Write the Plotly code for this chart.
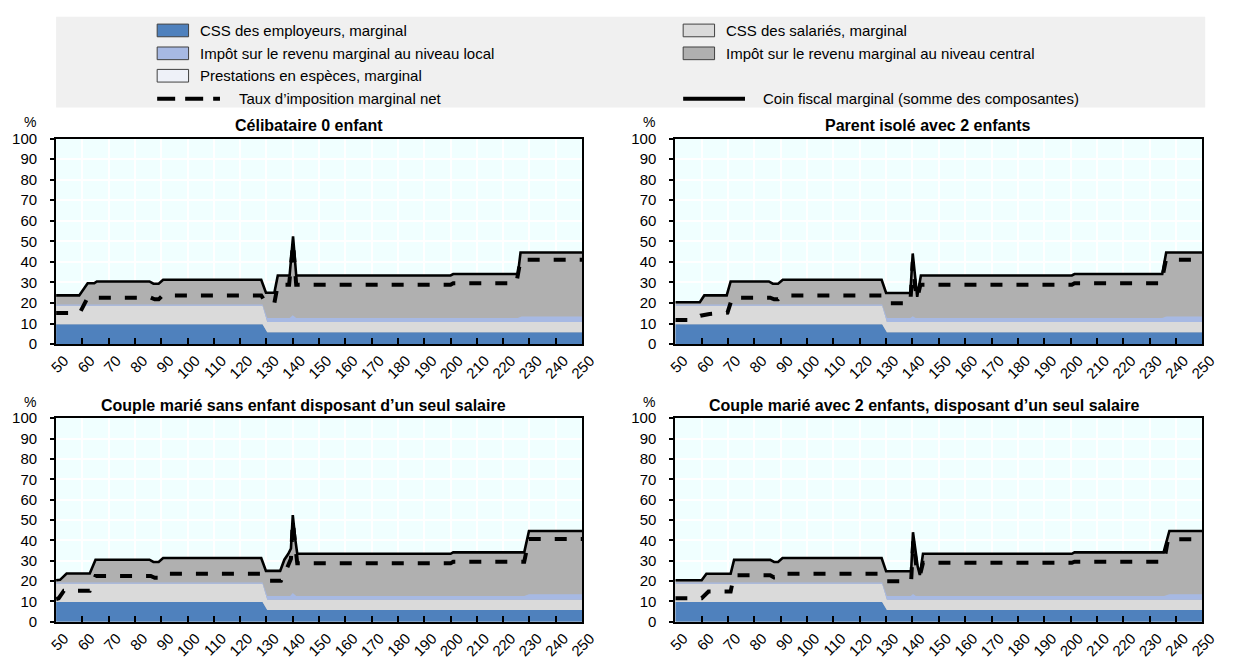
import plotly.graph_objects as go

W, H = 1233, 660

# ---------------------------------------------------------------------------
# Data: marginal rates (% of gross earnings) by earnings level (% of average wage)
# Each component is given at its break points.
# ---------------------------------------------------------------------------
panel_titles = [
    "Célibataire 0 enfant",
    "Parent isolé avec 2 enfants",
    "Couple marié sans enfant disposant d\u2019un seul salaire",
    "Couple marié avec 2 enfants, disposant d\u2019un seul salaire",
]

x_ticks = [50, 60, 70, 80, 90, 100, 110, 120, 130, 140, 150, 160, 170, 180, 190,
           200, 210, 220, 230, 240, 250]
y_ticks = [0, 10, 20, 30, 40, 50, 60, 70, 80, 90, 100]

# Employer and employee social security contributions (same for all households)
css_x = [50, 128.5, 130.3, 250]
css_employer = [9.7, 9.7, 5.8, 5.8]
css_employee = [9.0, 9.0, 5.0, 5.0]

# Local income tax
local1_x = [50, 128.5, 130.3, 138.8, 140.0, 141.3, 225.5, 227.0, 250]
local1_y = [0.6, 0.6, 1.9, 1.9, 3.3, 1.9, 1.9, 2.7, 2.7]
local2_x = [50, 128.5, 130.3, 139.2, 140.1, 141.2, 234.8, 236.3, 250]
local2_y = [0.6, 0.6, 1.9, 1.9, 2.8, 1.9, 1.9, 2.7, 2.7]
local3_x = [50, 128.5, 130.3, 139.0, 140.0, 141.3, 228.0, 229.8, 250]
local3_y = [0.6, 0.6, 1.9, 1.9, 3.3, 1.9, 1.9, 2.7, 2.7]
local4_x = [50, 128.5, 130.3, 139.4, 140.2, 141.3, 235.5, 237.5, 250]
local4_y = [0.6, 0.6, 1.9, 1.9, 2.8, 1.9, 1.9, 2.7, 2.7]

# Cash benefits (marginal withdrawal)
benef_x = [50, 250]
benef_y = [0.0, 0.0]

# Marginal tax wedge (sum of components)
wedge1_x = [50, 58.8, 62.0, 64.5, 65.5, 85.5, 87.0, 89.0, 90.7, 128.0, 129.8, 133.0,
            134.3, 138.8, 140.1, 141.3, 200.0, 201.0, 225.6, 226.6, 250]
wedge1_y = [23.7, 23.7, 29.6, 29.6, 30.5, 30.5, 29.4, 29.4, 31.3, 31.3, 25.0, 25.0,
            33.4, 33.4, 52.4, 33.4, 33.4, 34.1, 34.1, 44.6, 44.6]
wedge2_x = [50, 59.3, 61.0, 69.5, 71.0, 85.5, 87.0, 89.0, 90.8, 128.3, 130.0, 139.2,
            140.1, 141.0, 141.8, 143.2, 200.5, 201.5, 234.8, 236.3, 250]
wedge2_y = [20.4, 20.4, 23.7, 23.7, 30.5, 30.5, 29.4, 29.4, 31.3, 31.3, 24.9, 24.9,
            44.1, 31.0, 23.0, 33.4, 33.4, 34.1, 34.1, 44.6, 44.6]
wedge3_x = [50, 51.5, 54.0, 62.8, 65.0, 85.5, 87.0, 89.0, 90.7, 128.0, 129.8, 135.2,
            136.8, 138.3, 139.3, 140.0, 141.0, 141.7, 200.0, 201.0, 228.0, 229.8, 250]
wedge3_y = [20.4, 20.6, 23.7, 23.7, 30.5, 30.5, 29.4, 29.4, 31.3, 31.3, 25.0, 25.0,
            30.5, 33.4, 36.0, 52.4, 40.0, 33.4, 33.4, 34.1, 34.1, 44.6, 44.6]
wedge4_x = [50, 60.0, 61.8, 71.0, 72.3, 86.0, 87.5, 89.0, 90.7, 128.3, 130.0, 139.5,
            140.2, 141.2, 142.0, 142.8, 144.0, 200.5, 201.5, 235.3, 237.5, 250]
wedge4_y = [20.4, 20.4, 23.6, 23.6, 30.4, 30.4, 29.4, 29.4, 31.3, 31.3, 24.8, 24.8,
            44.0, 33.0, 27.0, 23.0, 33.4, 33.4, 34.1, 34.1, 44.6, 44.6]

# Net marginal tax rate
net1_x = [50, 59.0, 62.0, 86.0, 87.5, 89.0, 90.5, 128.0, 129.8, 133.0, 134.3, 138.6,
          140.1, 141.3, 200.0, 201.0, 225.0, 226.6, 250]
net1_y = [15.2, 15.2, 22.6, 22.6, 21.8, 21.8, 23.7, 23.7, 20.0, 20.0, 28.9, 28.9,
          49.0, 28.9, 28.9, 29.6, 29.6, 41.0, 41.0]
net2_x = [50, 56.5, 59.5, 63.0, 69.8, 71.6, 86.0, 87.5, 89.0, 90.8, 128.3, 130.0,
          139.2, 140.1, 141.0, 141.8, 143.0, 200.5, 201.5, 234.4, 236.2, 250]
net2_y = [11.8, 11.8, 13.8, 14.7, 15.3, 22.6, 22.6, 21.8, 21.8, 23.7, 23.7, 19.9,
          19.9, 40.0, 28.0, 22.2, 28.9, 28.9, 29.6, 29.6, 41.0, 41.0]
net3_x = [50, 51.0, 53.0, 62.8, 65.0, 86.0, 87.5, 89.0, 90.5, 128.0, 129.8, 135.5,
          137.5, 139.3, 140.0, 141.0, 141.7, 200.0, 201.0, 228.0, 229.8, 250]
net3_y = [11.2, 11.6, 15.3, 15.3, 22.5, 22.5, 21.6, 21.6, 23.6, 23.6, 20.1, 20.1,
          25.5, 31.0, 49.0, 36.0, 28.7, 28.7, 29.5, 29.5, 40.7, 40.7]
net4_x = [50, 60.0, 62.6, 71.0, 72.3, 86.0, 87.5, 89.0, 90.7, 128.3, 130.0, 139.5,
          140.3, 141.5, 142.8, 144.0, 200.5, 201.5, 235.5, 237.0, 250]
net4_y = [11.6, 11.6, 14.9, 14.9, 22.8, 22.8, 21.7, 21.7, 23.6, 23.6, 19.9, 19.9,
          40.0, 27.0, 22.6, 29.0, 29.0, 29.5, 29.5, 40.6, 40.6]

local_x = [local1_x, local2_x, local3_x, local4_x]
local_y = [local1_y, local2_y, local3_y, local4_y]
wedge_x = [wedge1_x, wedge2_x, wedge3_x, wedge4_x]
wedge_y = [wedge1_y, wedge2_y, wedge3_y, wedge4_y]
net_x = [net1_x, net2_x, net3_x, net4_x]
net_y = [net1_y, net2_y, net3_y, net4_y]

legend_labels = [
    "CSS des employeurs, marginal",
    "CSS des salariés, marginal",
    "Impôt sur le revenu marginal au niveau local",
    "Impôt sur le revenu marginal au niveau central",
    "Prestations en espèces, marginal",
    "Taux d\u2019imposition marginal net",
    "Coin fiscal marginal (somme des composantes)",
]

# ---------------------------------------------------------------------------
# Styling
# ---------------------------------------------------------------------------
C_EMPLOYER = "#4F81BD"
C_EMPLOYEE = "#DADADA"
C_LOCAL = "#A7B9E3"
C_CENTRAL = "#B0B0B0"
C_BENEF = "#EEF1F8"
PLOT_BG = "#F0FFFF"
FONT = "Liberation Sans, Arial, sans-serif"


def px_x(p):
    return p / W


def px_y(p):
    return 1 - p / H


# subplot frames in pixels: (left, right, top, bottom)
frames = [
    (49, 585, 133, 344),
    (680, 1217, 133, 344),
    (49, 585, 420, 629),
    (680, 1217, 420, 629),
]
title_cx = [307, 937, 301, 933]

fig = go.Figure()

for i in range(4):
    xa = "x" if i == 0 else f"x{i + 1}"
    ya = "y" if i == 0 else f"y{i + 1}"
    sg = f"stack{i + 1}"

    # central income tax: area between the other components and the wedge
    fig.add_trace(go.Scatter(
        x=wedge_x[i], y=wedge_y[i], mode="lines", fill="tozeroy",
        fillcolor=C_CENTRAL, line=dict(width=0, color=C_CENTRAL),
        xaxis=xa, yaxis=ya, showlegend=False, hoverinfo="skip"))

    stack = [
        (css_x, css_employer, C_EMPLOYER),
        (css_x, css_employee, C_EMPLOYEE),
        (local_x[i], local_y[i], C_LOCAL),
        (benef_x, benef_y, C_BENEF),
    ]
    for k, (sx, sy, col) in enumerate(stack):
        fig.add_trace(go.Scatter(
            x=sx, y=sy, mode="lines", stackgroup=sg,
            stackgaps="interpolate" if k == 0 else None,
            fillcolor=col, line=dict(width=0, color=col),
            xaxis=xa, yaxis=ya, showlegend=False, hoverinfo="skip"))

    fig.add_trace(go.Scatter(
        x=wedge_x[i], y=wedge_y[i], mode="lines",
        line=dict(color="black", width=2.6),
        xaxis=xa, yaxis=ya, showlegend=False))
    fig.add_trace(go.Scatter(
        x=net_x[i], y=net_y[i], mode="lines",
        line=dict(color="black", width=4, dash="12px,14px"),
        xaxis=xa, yaxis=ya, showlegend=False))

layout = dict(
    width=W, height=H,
    margin=dict(l=0, r=0, t=0, b=0),
    paper_bgcolor="white",
    plot_bgcolor=PLOT_BG,
    font=dict(family=FONT, size=15, color="black"),
    showlegend=False,
)

annotations = []
shapes = []

for i, (l, r, t, b) in enumerate(frames):
    xk = "xaxis" if i == 0 else f"xaxis{i + 1}"
    yk = "yaxis" if i == 0 else f"yaxis{i + 1}"
    ya = "y" if i == 0 else f"y{i + 1}"
    xa = "x" if i == 0 else f"x{i + 1}"
    layout[xk] = dict(
        domain=[px_x(l), px_x(r)], anchor=ya, range=[50, 250],
        tickvals=x_ticks, ticktext=[str(v) for v in x_ticks], tickangle=-45,
        ticks="inside", ticklen=6, tickwidth=1.5, tickcolor="black",
        ticklabelshift=8, ticklabelstandoff=0,
        showgrid=True, gridcolor="white", gridwidth=1.5, zeroline=False,
        showline=True, linecolor="black", linewidth=2, mirror=True,
        tickfont=dict(family=FONT, size=15, color="black"),
    )
    layout[yk] = dict(
        domain=[px_y(b), px_y(t)], anchor=xa, range=[0, 100],
        tickvals=y_ticks, ticks="outside", ticklen=4, tickwidth=1.5,
        tickcolor="black", ticklabelstandoff=10,
        showgrid=True, gridcolor="white", gridwidth=1.5, zeroline=False,
        showline=True, linecolor="black", linewidth=2, mirror=True,
        tickfont=dict(family=FONT, size=15, color="black"),
    )
    annotations.append(dict(
        x=px_x(title_cx[i]), y=px_y(t - 13), xref="paper", yref="paper",
        text=f"<b>{panel_titles[i]}</b>", showarrow=False,
        xanchor="center", yanchor="middle",
        font=dict(family=FONT, size=16, color="black")))
    annotations.append(dict(
        x=px_x(l - 27), y=px_y(t - 17), xref="paper", yref="paper",
        text="%", showarrow=False, xanchor="center", yanchor="middle",
        font=dict(family=FONT, size=14, color="black")))

# legend panel
shapes.append(dict(type="rect", xref="paper", yref="paper",
                   x0=px_x(49), x1=px_x(1220), y0=px_y(101), y1=px_y(8),
                   fillcolor="#F0F0F0", line=dict(width=0), layer="below"))

rows = [22, 45.5, 68.5, 92]
fill_items = [
    (152, rows[0], C_EMPLOYER, legend_labels[0]),
    (688, rows[0], C_EMPLOYEE, legend_labels[1]),
    (152, rows[1], C_LOCAL, legend_labels[2]),
    (688, rows[1], C_CENTRAL, legend_labels[3]),
    (152, rows[2], C_BENEF, legend_labels[4]),
]
for x0, yc, col, lab in fill_items:
    shapes.append(dict(type="rect", xref="paper", yref="paper",
                       x0=px_x(x0), x1=px_x(x0 + 32),
                       y0=px_y(yc + 6.5), y1=px_y(yc - 6.5),
                       fillcolor=col, line=dict(color="#404040", width=1)))
    annotations.append(dict(
        x=px_x(x0 + 42), y=px_y(yc), xref="paper", yref="paper", text=lab,
        showarrow=False, xanchor="left", yanchor="middle",
        font=dict(family=FONT, size=15, color="black")))

shapes.append(dict(type="line", xref="paper", yref="paper",
                   x0=px_x(152), x1=px_x(216), y0=px_y(rows[3]), y1=px_y(rows[3]),
                   line=dict(color="black", width=4, dash="18px,10px")))
annotations.append(dict(
    x=px_x(233), y=px_y(rows[3]), xref="paper", yref="paper",
    text=legend_labels[5], showarrow=False, xanchor="left", yanchor="middle",
    font=dict(family=FONT, size=15, color="black")))
shapes.append(dict(type="line", xref="paper", yref="paper",
                   x0=px_x(688), x1=px_x(751), y0=px_y(rows[3]), y1=px_y(rows[3]),
                   line=dict(color="black", width=4)))
annotations.append(dict(
    x=px_x(767), y=px_y(rows[3]), xref="paper", yref="paper",
    text=legend_labels[6], showarrow=False, xanchor="left", yanchor="middle",
    font=dict(family=FONT, size=15, color="black")))

layout["annotations"] = annotations
layout["shapes"] = shapes
fig.update_layout(**layout)

fig.write_html("out.html")
